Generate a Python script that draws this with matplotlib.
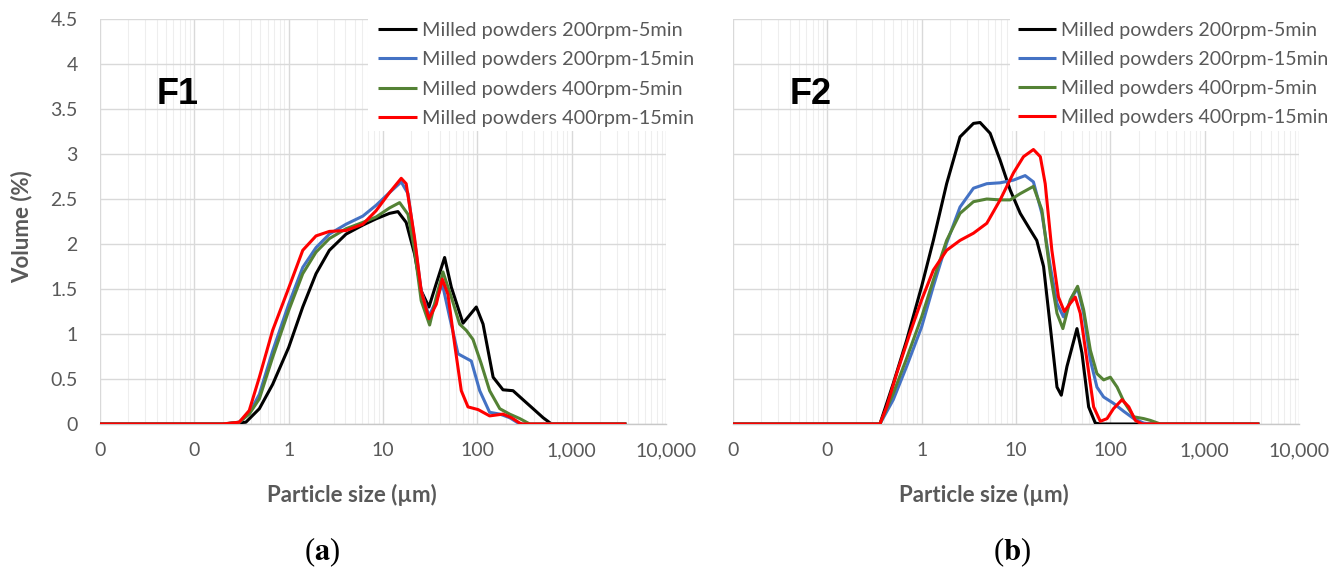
import matplotlib
matplotlib.use("Agg")
import matplotlib.pyplot as plt
from matplotlib.ticker import FixedLocator, NullFormatter

plt.rcParams['font.family'] = ['Lato', 'DejaVu Sans']
plt.rcParams['mathtext.fontset'] = 'stix'

# ---- data (particle size in um, volume in %) ----
series_labels = ["Milled powders 200rpm-5min", "Milled powders 200rpm-15min",
                 "Milled powders 400rpm-5min", "Milled powders 400rpm-15min"]
series_colors = ["#000000", "#4472C4", "#548235", "#FF0000"]

# F1
f1_black_x = [0.01, 0.2, 0.352, 0.489, 0.676, 1, 1.41, 1.95, 2.70, 4.06, 6.11, 8.45, 11.7, 14.4, 17.6,
              21.6, 25.4, 30.7, 36.7, 45.0, 53.0, 70.5, 97.5, 115, 147, 187, 239, 305, 390, 498, 611, 3800]
f1_black_y = [0, 0, 0.02, 0.17, 0.44, 0.85, 1.30, 1.67, 1.93, 2.11, 2.21, 2.28, 2.34, 2.36, 2.24,
              1.89, 1.48, 1.30, 1.56, 1.85, 1.52, 1.12, 1.30, 1.11, 0.52, 0.38, 0.37, 0.27, 0.17, 0.07, 0, 0]

f1_blue_x = [0.01, 0.2, 0.299, 0.382, 0.489, 0.676, 1, 1.41, 1.95, 2.70, 4.06, 6.11, 8.45, 11.7, 15.6, 18.4,
             21.6, 25.4, 30.7, 36.7, 42.5, 50.8, 62.4, 73.3, 86.3, 106, 135, 173, 220, 282, 3800]
f1_blue_y = [0, 0, 0.02, 0.12, 0.33, 0.81, 1.33, 1.74, 1.96, 2.11, 2.22, 2.31, 2.43, 2.57, 2.69, 2.56,
             2.04, 1.48, 1.20, 1.37, 1.56, 1.19, 0.78, 0.74, 0.70, 0.37, 0.13, 0.11, 0.07, 0, 0]

f1_green_x = [0.01, 0.2, 0.299, 0.382, 0.489, 0.676, 1, 1.41, 1.95, 2.70, 4.06, 6.11, 8.45, 11.7, 15.0, 18.4,
              21.6, 25.4, 31.2, 36.7, 43.2, 53.0, 64.9, 76.4, 89.9, 110, 135, 173, 220, 282, 360, 3800]
f1_green_y = [0, 0, 0.02, 0.11, 0.28, 0.74, 1.26, 1.67, 1.91, 2.06, 2.17, 2.24, 2.30, 2.40, 2.46, 2.33,
              1.93, 1.37, 1.10, 1.41, 1.69, 1.41, 1.11, 1.04, 0.94, 0.67, 0.37, 0.17, 0.11, 0.06, 0, 0]

f1_red_x = [0.01, 0.2, 0.299, 0.382, 0.489, 0.676, 1, 1.41, 1.95, 2.70, 4.06, 6.11, 8.45, 11.7, 15.6, 17.6,
            21.6, 25.4, 30.7, 36.7, 42.5, 48.8, 57.4, 67.6, 79.6, 102, 135, 187, 230, 282, 300, 3800]
f1_red_y = [0, 0, 0.02, 0.15, 0.52, 1.04, 1.51, 1.93, 2.09, 2.14, 2.15, 2.22, 2.37, 2.57, 2.73, 2.67,
            2.07, 1.48, 1.17, 1.33, 1.61, 1.44, 0.89, 0.37, 0.19, 0.16, 0.09, 0.11, 0.07, 0.01, 0, 0]

# F2
f2_black_x = [0.01, 0.361, 0.500, 0.693, 1, 1.33, 1.84, 2.55, 3.54, 4.16, 5.32, 6.79, 8.67, 11.1, 14.1, 16.6,
              19.6, 23.1, 27.2, 30.2, 34.7, 44.3, 50.0, 58.9, 69.3, 78.3, 3800]
f2_black_y = [0, 0, 0.45, 0.93, 1.53, 2.04, 2.67, 3.19, 3.34, 3.35, 3.23, 2.93, 2.60, 2.34, 2.16, 2.04,
              1.75, 1.08, 0.41, 0.32, 0.64, 1.06, 0.79, 0.19, 0.01, 0, 0]

f2_blue_x = [0.01, 0.361, 0.500, 0.693, 1, 1.33, 1.84, 2.55, 3.54, 4.90, 6.79, 9.40, 12.5, 15.3, 18.8,
             23.1, 27.2, 31.9, 39.2, 45.0, 52.1, 61.4, 72.1, 84.9, 108, 139, 177, 226, 266, 3800]
f2_blue_y = [0, 0, 0.27, 0.64, 1.08, 1.53, 2.01, 2.41, 2.62, 2.67, 2.68, 2.71, 2.76, 2.69, 2.34,
             1.75, 1.34, 1.19, 1.41, 1.51, 1.23, 0.71, 0.41, 0.30, 0.23, 0.14, 0.06, 0.01, 0, 0]

f2_green_x = [0.01, 0.361, 0.500, 0.693, 1, 1.33, 1.84, 2.55, 3.54, 4.90, 6.79, 8.67, 11.1, 15.3, 18.8,
              23.1, 27.2, 31.4, 37.6, 45.0, 52.1, 61.4, 72.1, 84.9, 100, 118, 139, 177, 226, 266, 340, 3800]
f2_green_y = [0, 0, 0.34, 0.73, 1.19, 1.60, 2.04, 2.34, 2.47, 2.50, 2.49, 2.49, 2.56, 2.64, 2.38,
              1.67, 1.23, 1.06, 1.38, 1.53, 1.27, 0.82, 0.56, 0.49, 0.52, 0.41, 0.25, 0.08, 0.06, 0.04, 0, 0]

f2_red_x = [0.01, 0.361, 0.425, 0.543, 0.752, 1, 1.33, 1.84, 2.55, 3.54, 4.90, 6.79, 9.40, 12.0, 15.3, 18.1,
            20.4, 24.0, 28.2, 32.5, 37.6, 42.5, 48.0, 56.5, 66.5, 78.3, 92.3, 108, 133, 157, 184, 217, 3800]
f2_red_y = [0, 0, 0.19, 0.56, 1.01, 1.38, 1.71, 1.93, 2.04, 2.12, 2.23, 2.49, 2.79, 2.97, 3.05, 2.97,
            2.67, 1.93, 1.41, 1.25, 1.34, 1.41, 1.23, 0.71, 0.19, 0.03, 0.06, 0.17, 0.27, 0.19, 0.04, 0, 0]

x_ticks = [0.01, 0.1, 1, 10, 100, 1000, 10000]
x_tick_labels = ["0", "0", "1", "10", "100", "1,000", "10,000"]
y_ticks = [0, 0.5, 1, 1.5, 2, 2.5, 3, 3.5, 4, 4.5]
y_tick_labels = ["0", "0.5", "1", "1.5", "2", "2.5", "3", "3.5", "4", "4.5"]

panels = [
    ("F1", [(f1_black_x, f1_black_y), (f1_blue_x, f1_blue_y), (f1_green_x, f1_green_y), (f1_red_x, f1_red_y)]),
    ("F2", [(f2_black_x, f2_black_y), (f2_blue_x, f2_blue_y), (f2_green_x, f2_green_y), (f2_red_x, f2_red_y)]),
]

# ---- figure ----
W, H = 1329, 573
fig = plt.figure(figsize=(W / 100, H / 100), dpi=100)
text_gray = "#595959"

ax_boxes = [(100, 666), (733, 1299)]
legend_box_left = [368, 1010]
legend_left = [378, 1018]
legend_size = [14.3, 14.0]
y_top, y_bot = 19, 424
minor_ticks = [m * 10.0 ** e for e in range(-2, 4) for m in range(2, 10)]

for i, (name, curves) in enumerate(panels):
    x0, x1 = ax_boxes[i]
    ax = fig.add_axes([x0 / W, 1 - y_bot / H, (x1 - x0) / W, (y_bot - y_top) / H])
    ax.set_xscale("log")
    ax.set_xlim(0.01, 10000)
    ax.set_ylim(0, 4.5)

    for (xs, ys), color, label in zip(curves, series_colors, series_labels):
        ax.plot(xs, ys, color=color, lw=2.2, label=label, zorder=3,
                solid_joinstyle="round", solid_capstyle="butt")

    ax.xaxis.set_major_locator(FixedLocator(x_ticks))
    ax.xaxis.set_minor_locator(FixedLocator(minor_ticks))
    ax.xaxis.set_minor_formatter(NullFormatter())
    ax.set_xticklabels(x_tick_labels)
    ax.set_yticks(y_ticks)
    if i == 0:
        ax.set_yticklabels(y_tick_labels)
    else:
        ax.set_yticklabels([])
    ax.tick_params(which="both", length=0, labelsize=14, labelcolor=text_gray)
    ax.tick_params(axis="x", pad=13)
    ax.tick_params(axis="y", pad=16)

    ax.grid(True, which="major", color="#D9D9D9", lw=1.0, zorder=0)
    ax.grid(True, which="minor", axis="x", color="#EEEEEE", lw=0.8, zorder=0)
    ax.set_axisbelow(True)
    for s in ["top", "right", "left"]:
        ax.spines[s].set_visible(False)
    ax.spines["bottom"].set_color("#C8C8C8")
    ax.spines["bottom"].set_linewidth(1.0)

    # white legend area covering the grid
    bx = (legend_box_left[i] - x0) / (x1 - x0)
    ax.add_patch(plt.Rectangle((bx, (y_bot - 131) / (y_bot - y_top)), 1.2, 0.4,
                               transform=ax.transAxes, facecolor="white", edgecolor="none",
                               clip_on=False, zorder=2))
    lx = (legend_left[i] - x0) / (x1 - x0)
    leg = ax.legend(loc="upper left", bbox_to_anchor=(lx, (y_bot - 22) / (y_bot - y_top)),
                    frameon=False, fontsize=legend_size[i], handlelength=1.95, handletextpad=0.25,
                    labelspacing=0.62, borderaxespad=0, borderpad=0)
    for t in leg.get_texts():
        t.set_color(text_gray)
    leg.set_zorder(5)

    ax.text(0.138, (y_bot - 95) / (y_bot - y_top), name, transform=ax.transAxes,
            fontsize=26, fontweight="bold", family=["Liberation Sans", "DejaVu Sans"],
            color="black", ha="center", va="center")

    fig.text((x0 + 252 if i == 0 else x0 + 251) / W, 1 - 495 / H, "Particle size (\u00b5m)",
             ha="center", va="center", fontsize=16, fontweight="bold", color=text_gray)

fig.text(22 / W, 1 - 227 / H, "Volume (%)", rotation=90, ha="center", va="center",
         fontsize=16, fontweight="bold", color=text_gray)

fig.text(322 / W, 1 - 552 / H, r"($\mathbf{a}$)", ha="center", va="center", fontsize=22,
         family=["Liberation Serif", "DejaVu Serif"])
fig.text(1012 / W, 1 - 552 / H, r"($\mathbf{b}$)", ha="center", va="center", fontsize=22,
         family=["Liberation Serif", "DejaVu Serif"])

fig.savefig("out.png", dpi=100, facecolor="white")
